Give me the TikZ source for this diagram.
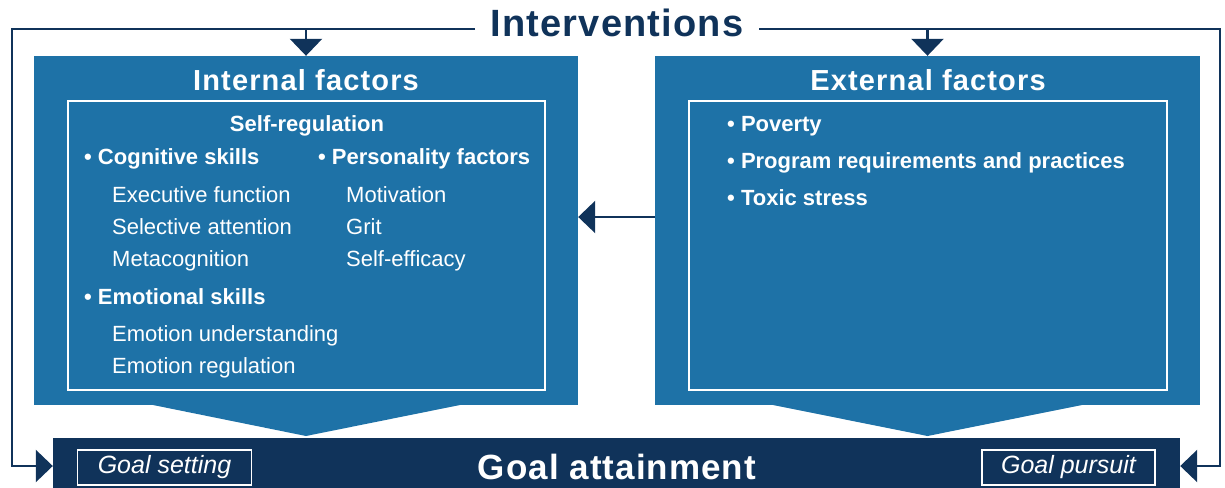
\documentclass[tikz,border=0pt]{standalone}
\usepackage{fontspec}
\setmainfont{Liberation Sans}
\newfontfamily\spacedA[LetterSpace=3]{Liberation Sans}
\newfontfamily\spacedB[LetterSpace=4]{Liberation Sans}
\usetikzlibrary{arrows.meta}
\definecolor{boxblue}{RGB}{30,114,167}
\definecolor{navy}{RGB}{16,51,90}
\tikzset{
  bigbox/.style={fill=boxblue, draw=none, rectangle, inner sep=0pt},
  innerbox/.style={draw=white, line width=2pt, rectangle, inner sep=0pt, fill=none},
  conn/.style={draw=navy, line width=2.5pt, line join=miter},
  tipped/.style={-{Triangle[width=32pt,length=17pt]}},
  boxtitle/.style={text=white, anchor=base, inner sep=0pt, font=\fontsize{29}{34}\selectfont\spacedB\bfseries},
  head/.style={text=white, anchor=base west, inner sep=0pt, font=\fontsize{22}{26}\selectfont\bfseries},
  item/.style={text=white, anchor=base west, inner sep=0pt, font=\fontsize{22}{26}\selectfont},
  tag/.style={draw=white, line width=1.5pt, text=white, inner sep=0pt, font=\fontsize{25}{30}\selectfont\itshape},
}
\begin{document}
\begin{tikzpicture}[x=1pt,y=-1pt]
\useasboundingbox (0,0) rectangle (1225,487);
% boxes
\node[bigbox, minimum width=544pt, minimum height=349pt] (int) at (306,230.5) {};
\fill[boxblue] (148,404) -- (306,436) -- (465,404) -- cycle;
\node[bigbox, minimum width=545pt, minimum height=349pt] (ext) at (927.5,230.5) {};
\fill[boxblue] (768,404) -- (927.5,436) -- (1087,404) -- cycle;
\node[innerbox, minimum width=477pt, minimum height=289pt] (intin) at (306.5,245.5) {};
\node[innerbox, minimum width=478pt, minimum height=289pt] (extin) at (928,245.5) {};
% bottom bar
\node[fill=navy, rectangle, inner sep=0pt, minimum width=1127pt, minimum height=56pt] (bar) at (616.5,466) {};
\node[text=white, anchor=base, inner sep=0pt, font=\fontsize{35}{40}\selectfont\spacedA\bfseries] (goal) at (617,479) {Goal attainment};
\node[tag, minimum width=174pt, minimum height=35pt] (gset) at (164.5,467.5) {Goal setting};
\node[tag, minimum width=173pt, minimum height=35pt] (gpur) at (1068.5,467.5) {Goal pursuit};
% interventions
\node[text=navy, anchor=base, inner sep=0pt, font=\fontsize{38}{44}\selectfont\spacedA\bfseries] (intv) at (617,37) {Interventions};
\coordinate (TL) at (475,29);
\coordinate (TR) at (759,29);
\coordinate (LC) at (12,29);
\coordinate (RC) at (1220,29);
\coordinate (mid) at (0,217);
\draw[conn, tipped] (TL) -- (LC) |- (bar.west);
\draw[conn, tipped] (TR) -- (RC) |- (bar.east);
\draw[conn, tipped] (int.north |- TL) -- (int.north);
\draw[conn, tipped] (ext.north |- TR) -- (ext.north);
\draw[conn, tipped] (ext.west |- mid) -- (int.east |- mid);
% titles
\node[boxtitle] (intt) at (306,90) {Internal factors};
\node[boxtitle] (extt) at (928,90) {External factors};
% internal content
\node[text=white, anchor=base, inner sep=0pt, font=\fontsize{22}{26}\selectfont\bfseries] (selfreg) at (307,131) {Self-regulation};
\node[head] (cog) at (84,164) {\textbullet\ Cognitive skills};
\node[item] (ef) at (112,202) {Executive function};
\node[item] (sa) at (112,234) {Selective attention};
\node[item] (mc) at (112,266) {Metacognition};
\node[head] (emo) at (84,304) {\textbullet\ Emotional skills};
\node[item] (eu) at (112,341.5) {Emotion understanding};
\node[item] (er) at (112,373) {Emotion regulation};
\node[head] (pers) at (318,164) {\textbullet\ Personality factors};
\node[item] (mot) at (346,202) {Motivation};
\node[item] (grit) at (346,234) {Grit};
\node[item] (se) at (346,266) {Self-efficacy};
% external content
\node[head] (pov) at (727,131.5) {\textbullet\ Poverty};
\node[head] (prog) at (727,168.5) {\textbullet\ Program requirements and practices};
\node[head] (tox) at (727,205.5) {\textbullet\ Toxic stress};
\end{tikzpicture}
\end{document}
